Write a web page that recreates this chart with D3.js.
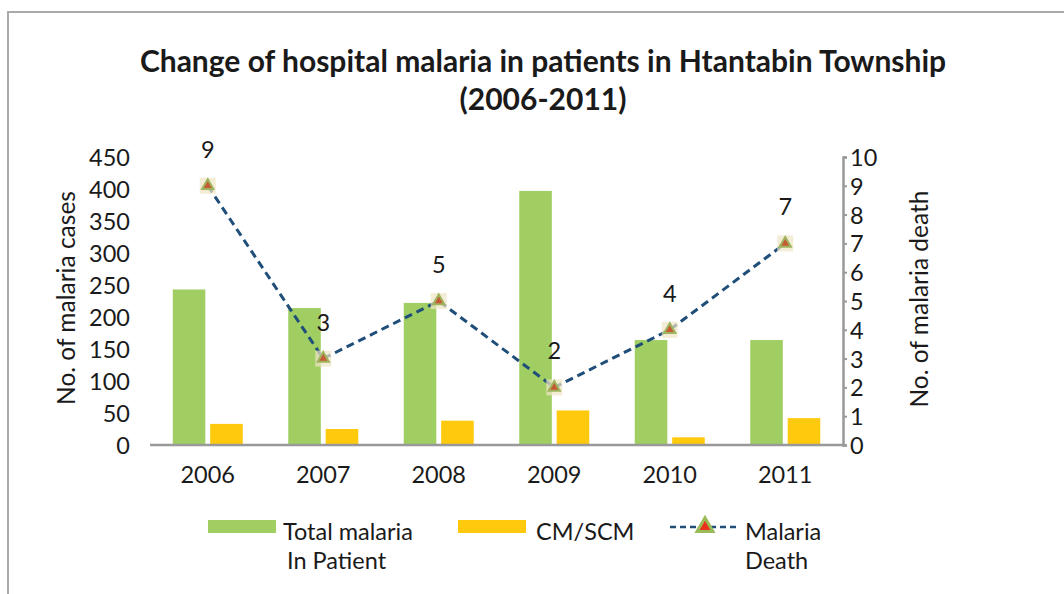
<!DOCTYPE html>
<html><head><meta charset="utf-8">
<script src="https://cdn.jsdelivr.net/npm/d3@7"></script>
<style>body{margin:0;background:#fff}svg{display:block}text{font-family:Lato,"Open Sans",sans-serif;fill:#1a1a1a}</style>
</head><body>
<svg id="c" width="1064" height="594"></svg>
<script>
const years = ["2006","2007","2008","2009","2010","2011"];
const totalInPatient = [243, 214, 222, 397, 164, 164];
const cmScm = [33, 25, 38, 54, 12, 42];
const deaths = [9, 3, 5, 2, 4, 7];
const leftTicks = [0,50,100,150,200,250,300,350,400,450];
const rightTicks = [0,1,2,3,4,5,6,7,8,9,10];
const seriesNames = ["Total malaria|In Patient", "CM/SCM", "Malaria|Death"];

const svg = d3.select("#c");
const green="#a0ce63", yellow="#ffc90e", lineBlue="#1f4e79", axisGray="#999";
const FS = 23.5;

// frame
svg.append("rect").attr("x",8).attr("y",12).attr("width",1070).attr("height",600)
  .attr("fill","none").attr("stroke","#aaa").attr("stroke-width",2);

const x0 = d3.scaleBand().domain(years).range([150,843]).padding(0);
const x1 = d3.scaleBand().domain(["t","c"]).range([0,70]).paddingInner(0.13);
const yL = d3.scaleLinear().domain([0,450]).range([445,157]);
const yR = d3.scaleLinear().domain([0,10]).range([445,157]);
const gx = y => x0(y) + (x0.bandwidth()-70)/2;

// title
const title = svg.append("text").attr("text-anchor","middle").attr("font-weight","bold").attr("font-size",30);
title.append("tspan").attr("x",543).attr("y",72).text("Change of hospital malaria in patients in Htantabin Township");
title.append("tspan").attr("x",543).attr("y",110).text("(2006-2011)");

// bars
svg.selectAll(".bt").data(years).enter().append("rect")
  .attr("x",(d)=>gx(d)+x1("t")).attr("width",x1.bandwidth())
  .attr("y",(d,i)=>yL(totalInPatient[i])).attr("height",(d,i)=>yL(0)-yL(totalInPatient[i]))
  .attr("fill",green);
svg.selectAll(".bc").data(years).enter().append("rect")
  .attr("x",(d)=>gx(d)+x1("c")).attr("width",x1.bandwidth())
  .attr("y",(d,i)=>yL(cmScm[i])).attr("height",(d,i)=>yL(0)-yL(cmScm[i]))
  .attr("fill",yellow);

// baseline
svg.append("line").attr("x1",150).attr("x2",845).attr("y1",yL(0)).attr("y2",yL(0))
  .attr("stroke",axisGray).attr("stroke-width",2.5);

// left axis labels (no line)
const la = svg.append("g").attr("transform","translate(130,0)")
  .call(d3.axisLeft(yL).tickValues(leftTicks).tickSize(0).tickPadding(0));
la.select(".domain").remove();
la.selectAll("text").attr("font-size",FS).attr("font-family","Lato,sans-serif").attr("fill","#1a1a1a").attr("dy","0.36em");

// right axis
const ra = svg.append("g").attr("transform","translate(843,0)")
  .call(d3.axisRight(yR).tickValues(rightTicks).tickSize(4).tickSizeOuter(4).tickPadding(3));
ra.select(".domain").attr("stroke",axisGray).attr("stroke-width",2.5);
ra.selectAll("line").attr("stroke",axisGray).attr("stroke-width",2);
ra.selectAll("text").attr("font-size",FS).attr("font-family","Lato,sans-serif").attr("fill","#1a1a1a").attr("dy","0.36em");

// x axis labels
const xa = svg.append("g").attr("transform","translate(0,445)")
  .call(d3.axisBottom(x0).tickSize(0).tickPadding(21));
xa.select(".domain").remove();
xa.selectAll("text").attr("font-size",FS).attr("font-family","Lato,sans-serif").attr("fill","#1a1a1a");

// axis titles
svg.append("text").attr("transform","translate(75,298) rotate(-90)").attr("text-anchor","middle")
  .attr("font-size",24.5).text("No. of malaria cases");
svg.append("text").attr("transform","translate(928,299) rotate(-90)").attr("text-anchor","middle")
  .attr("font-size",24.5).text("No. of malaria death");

// line
const cx = d => x0(d)+x0.bandwidth()/2;
const line = d3.line().x((d,i)=>cx(years[i])).y(d=>yR(d));
svg.append("path").datum(deaths).attr("d",line).attr("fill","none")
  .attr("stroke",lineBlue).attr("stroke-width",3).attr("stroke-dasharray","8,5");

const tri = d3.symbol().type(d3.symbolTriangle).size(55);
function marker(g){
  g.append("rect").attr("x",-8).attr("y",-8).attr("width",16).attr("height",16).attr("fill","#efe6c4").attr("opacity",0.7);
  g.append("path").attr("d",tri).attr("fill","#c65a35").attr("stroke","#9fb35e").attr("stroke-width",2);
}
years.forEach((y,i)=>{
  const g = svg.append("g").attr("transform",`translate(${cx(y)},${yR(deaths[i])})`);
  marker(g);
  svg.append("text").attr("x",cx(y)).attr("y",yR(deaths[i])-28).attr("text-anchor","middle")
    .attr("font-size",FS).text(deaths[i]);
});

// legend
const lg = svg.append("g");
lg.append("rect").attr("x",208).attr("y",520).attr("width",68).attr("height",13).attr("fill",green);
lg.append("rect").attr("x",458).attr("y",520).attr("width",68).attr("height",13).attr("fill",yellow);
lg.append("line").attr("x1",670).attr("x2",740).attr("y1",527).attr("y2",527)
  .attr("stroke",lineBlue).attr("stroke-width",2.5).attr("stroke-dasharray","6,4");
const lm = lg.append("g").attr("transform","translate(705,527)");
lm.append("path").attr("d",d3.symbol().type(d3.symbolTriangle).size(110)).attr("fill","#e8321e").attr("stroke","#9bbb59").attr("stroke-width",3);
const lt = [[283,seriesNames[0]],[536,seriesNames[1]],[745,seriesNames[2]]];
lt.forEach(([x,s])=>{
  const parts=s.split("|");
  const t=lg.append("text").attr("font-size",FS);
  t.append("tspan").attr("x",x).attr("y",540).text(parts[0]);
  if(parts[1]) t.append("tspan").attr("x",x+(parts[0].startsWith("Total")?4:0)).attr("y",569).text(parts[1]);
});
</script>
</body></html>
